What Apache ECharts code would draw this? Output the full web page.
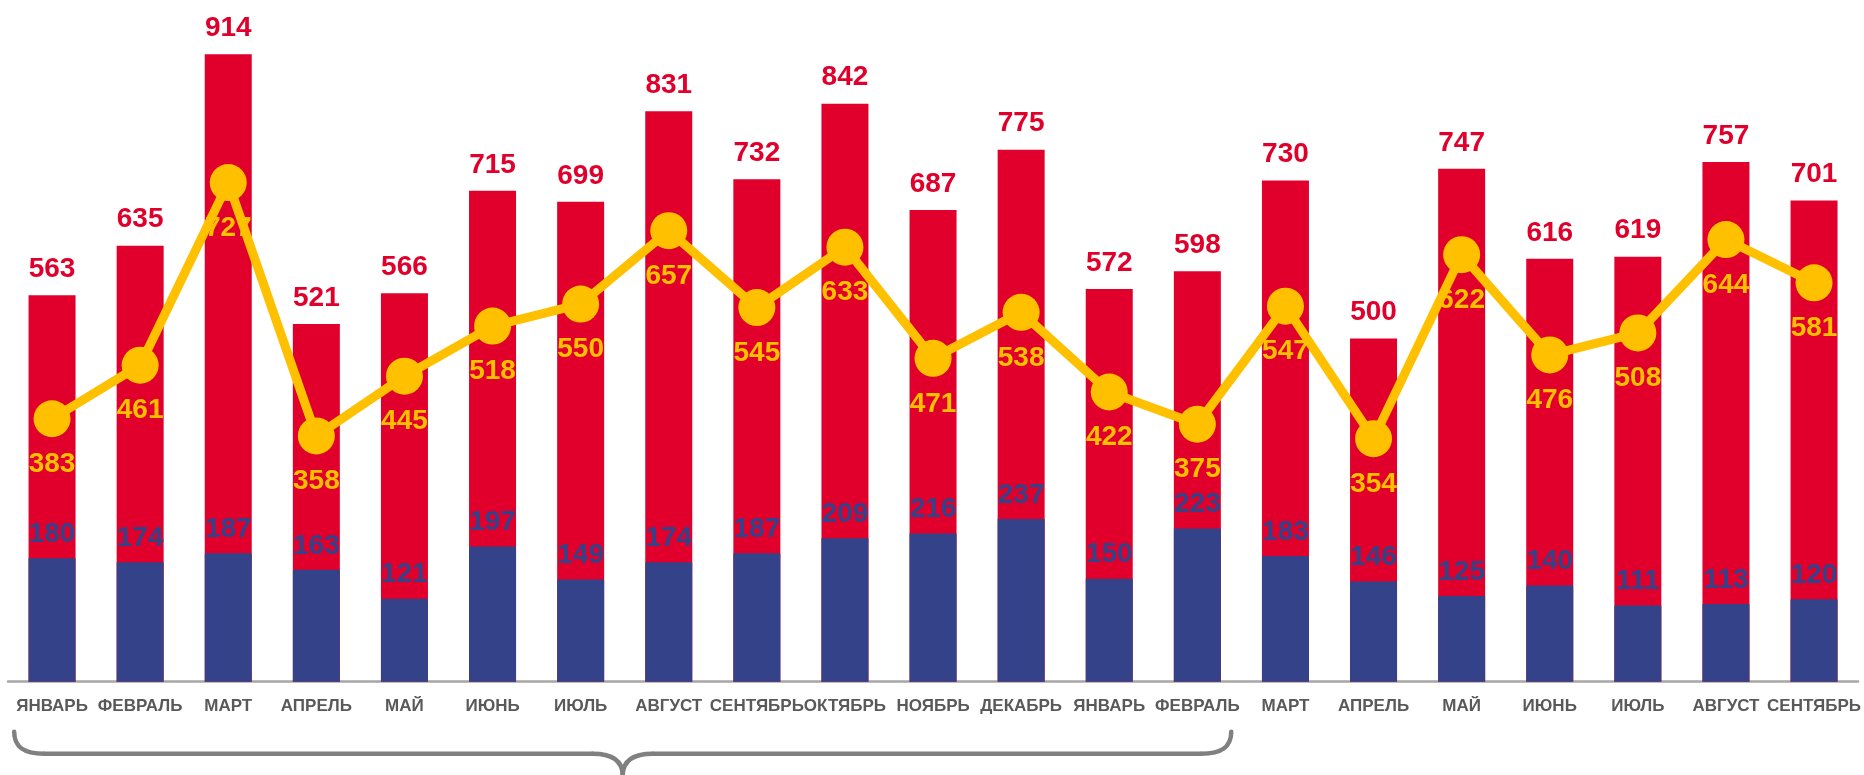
<!DOCTYPE html>
<html>
<head>
<meta charset="utf-8">
<script src="https://cdn.jsdelivr.net/npm/echarts@6/dist/echarts.min.js"></script>
<style>
html,body{margin:0;padding:0;background:#fff;}
#main{width:1864px;height:775px;}
</style>
</head>
<body>
<div id="main"></div>
<script>
const categories = ['ЯНВАРЬ','ФЕВРАЛЬ','МАРТ','АПРЕЛЬ','МАЙ','ИЮНЬ','ИЮЛЬ','АВГУСТ','СЕНТЯБРЬ','ОКТЯБРЬ','НОЯБРЬ','ДЕКАБРЬ','ЯНВАРЬ','ФЕВРАЛЬ','МАРТ','АПРЕЛЬ','МАЙ','ИЮНЬ','ИЮЛЬ','АВГУСТ','СЕНТЯБРЬ'];
const totalValues = [563, 635, 914, 521, 566, 715, 699, 831, 732, 842, 687, 775, 572, 598, 730, 500, 747, 616, 619, 757, 701];
const blueValues = [180, 174, 187, 163, 121, 197, 149, 174, 187, 209, 216, 237, 150, 223, 183, 146, 125, 140, 111, 113, 120];
const lineValues = [383, 461, 727, 358, 445, 518, 550, 657, 545, 633, 471, 538, 422, 375, 547, 354, 622, 476, 508, 644, 581];

const RED = '#E0002B';
const BLUE = '#34428A';
const YELLOW = '#FFC000';
const FONT = "'Liberation Sans', Arial, sans-serif";

const chart = echarts.init(document.getElementById('main'), null, {renderer: 'canvas'});
chart.setOption({
  animation: false,
  backgroundColor: '#ffffff',
  grid: {left: 8, right: 3, top: 29.5, bottom: 93.3, containLabel: false},
  xAxis: {
    type: 'category',
    data: categories,
    axisTick: {show: false},
    axisLine: {lineStyle: {color: '#A6A6A6', width: 2.5}},
    axisLabel: {
      interval: 0,
      margin: 16,
      color: '#595959',
      fontSize: 17,
      fontWeight: 'bold',
      fontFamily: FONT
    }
  },
  yAxis: {
    type: 'value', min: 0, max: 950, show: false,
    splitLine: {show: false}
  },
  series: [
    {
      name: 'total', type: 'bar', data: totalValues,
      barWidth: 47, barGap: '-100%',
      itemStyle: {color: RED},
      label: {show: true, position: 'top', distance: 12, color: RED, fontSize: 28, fontWeight: 'bold', fontFamily: FONT},
      z: 2
    },
    {
      name: 'blue', type: 'bar', data: blueValues,
      barWidth: 47, barGap: '-100%',
      itemStyle: {color: BLUE},
      label: {show: true, position: 'top', distance: 10, color: BLUE, fontSize: 28, fontWeight: 'bold', fontFamily: FONT},
      z: 3
    },
    {
      name: 'line', type: 'line', data: lineValues,
      symbol: 'circle', symbolSize: 37,
      lineStyle: {color: YELLOW, width: 9},
      itemStyle: {color: YELLOW},
      label: {show: true, position: 'bottom', distance: 13, color: YELLOW, fontSize: 28, fontWeight: 'bold', fontFamily: FONT},
      z: 4
    }
  ]
});

// Bracket below the first 14 categories
const x0 = chart.convertToPixel({xAxisIndex: 0}, 0);
const x1 = chart.convertToPixel({xAxisIndex: 0}, 1);
const x13 = chart.convertToPixel({xAxisIndex: 0}, 13);
const step = x1 - x0;
const axisY = chart.convertToPixel({yAxisIndex: 0}, 0);
const L = x0 - 0.43 * step;
const R = x13 + 0.385 * step;
const M = (L + R) / 2;
const yTop = axisY + 50;
const yH = axisY + 72;
const yTip = axisY + 94;
const bStyle = {fill: null, stroke: '#808080', lineWidth: 4.5, lineCap: 'round'};
const bracket = [
  {type: 'bezierCurve', shape: {x1: L, y1: yTop, cpx1: L, cpy1: yH - 5, cpx2: L + 12, cpy2: yH, x2: L + 30, y2: yH}},
  {type: 'line', shape: {x1: L + 30, y1: yH, x2: M - 30, y2: yH}},
  {type: 'bezierCurve', shape: {x1: M - 30, y1: yH, cpx1: M - 12, cpy1: yH, cpx2: M, cpy2: yH + 6, x2: M, y2: yTip}},
  {type: 'bezierCurve', shape: {x1: M, y1: yTip, cpx1: M, cpy1: yH + 6, cpx2: M + 12, cpy2: yH, x2: M + 30, y2: yH}},
  {type: 'line', shape: {x1: M + 30, y1: yH, x2: R - 30, y2: yH}},
  {type: 'bezierCurve', shape: {x1: R - 30, y1: yH, cpx1: R - 12, cpy1: yH, cpx2: R, cpy2: yH - 5, x2: R, y2: yTop}}
].map(function (g) { g.style = bStyle; g.silent = true; return g; });
chart.setOption({graphic: bracket});
</script>
</body>
</html>
